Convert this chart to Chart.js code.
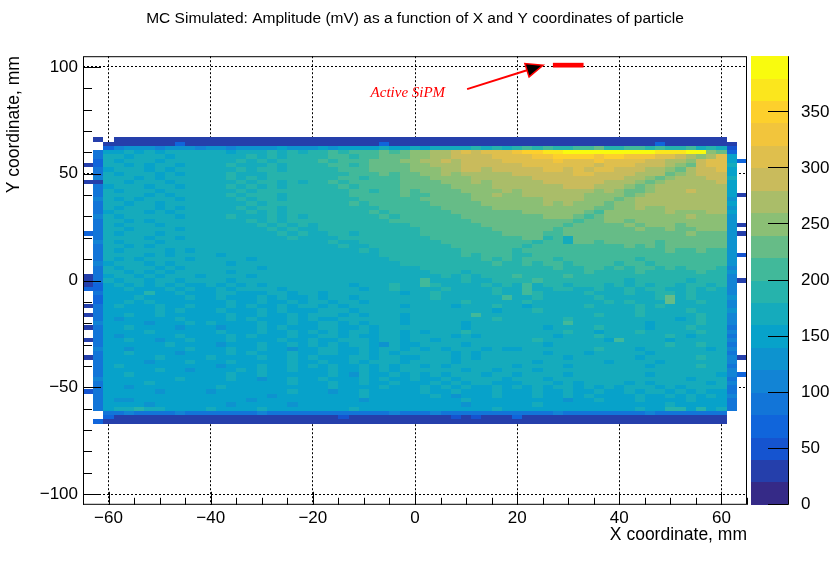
<!DOCTYPE html>
<html>
<head>
<meta charset="utf-8">
<title>MC Simulated amplitude map</title>
<script src="https://cdn.jsdelivr.net/npm/chart.js@4.4.1/dist/chart.umd.min.js"></script>
<style>
  html, body { margin: 0; padding: 0; background: #fff; }
  canvas { display: block; }
</style>
</head>
<body>
<canvas id="AmpMap" width="830" height="561"></canvas>
<script>
// bin centres of the 2D histogram (mm)
var xCenters = [-64, -62, -60, -58, -56, -54, -52, -50, -48, -46, -44, -42, -40, -38, -36, -34,
  -32, -30, -28, -26, -24, -22, -20, -18, -16, -14, -12, -10, -8, -6, -4, -2, 0, 2, 4, 6, 8, 10,
  12, 14, 16, 18, 20, 22, 24, 26, 28, 30, 32, 34, 36, 38, 40, 42, 44, 46, 48, 50, 52, 54, 56, 58,
  60, 62, 64];
var yCenters = [66, 64, 62, 60, 58, 56, 54, 52, 50, 48, 46, 44, 42, 40, 38, 36, 34, 32, 30, 28,
  26, 24, 22, 20, 18, 16, 14, 12, 10, 8, 6, 4, 2, 0, -2, -4, -6, -8, -10, -12, -14, -16, -18, -20,
  -22, -24, -26, -28, -30, -32, -34, -36, -38, -40, -42, -44, -46, -48, -50, -52, -54, -56, -58,
  -60, -62, -64, -66];

// amplitude per bin, one row per y centre (top to bottom), one char per x centre.
// char = amplitude class of 20 mV (base-20 digit 0..j), '.' = empty bin
var amplitudeRows = [
  ".1 .111111111 1111111111 1111111111 1111111111 1111111111 1111111111 1..",
  ".. 1111111311 1111111111 1111111311 1111111111 1111111111 1111311111 11.",
  ".. 3566656665 6656666766 6767777877 8788889898 9a9a99aab9 9aa9a99a89 82.",
  ".4 7787878888 8878889898 99a9aaabab ccddefefff ghhiijjjjj jjjjiiijjc b3.",
  ".4 8878887888 8888989899 99aa9aabbb ccddeeeeff ffgghhhhgh hgggffedcd f7.",
  ".3 8788878888 8889898999 9a9aaabbbc cddedeeeef ffffgfffgf fffeeddcef f73",
  "13 8878788788 8898889899 99aa9abbbb ccdddeeeee efffffffef ffeeedcbef f8.",
  ".4 7888787888 8889899899 999aaabbbb cccddeedee eeeffefeff eeeddcbdee f7.",
  ".4 8788878788 8898889999 9999aaabab bccdcddddd eeeeeeffee eedddbcdee e7.",
  ".5 8887878888 8898989999 999aa9aaab bbccccdddd ddeeeeeeee eddcbcddde e8.",
  "11 8878887888 8889899898 99a9aaaaab bbbcccdcdd dddeeeeeed ddcbcddddd e7.",
  ".4 7888788788 8898989899 999a9aaaab bbbbccccdd dddddeeedd dcbcdddddd d7.",
  ".4 8788878888 8889899999 9999aa9aab abbbbccccd cdddddddcd cbbcdddedd d7.",
  ".4 8888787888 8898999899 9999aaaaab aabbbbccdc cddddddccc cbcddddddd d71",
  ".5 8787888788 8889899899 99999aaaaa abbbbbcccc cccddddccc bcdddddddd d6.",
  ".4 8878878888 8888989999 9999a9aaaa aabbbbbccc cccdcdcccb ccdddddddd d7.",
  ".4 8788878788 8889899899 9999999aaa aaabbbbbcc ccccccccbb ccdccddddd d6.",
  ".4 7888787888 8888989899 999999a9aa aaaabbbbbb bccccccbac cccccdcccd d7.",
  ".5 8788888788 8898889898 9999999a9a aaaaabbbbb bbbcccbabc cccccccdcc c6.",
  ".4 8878788888 8888989899 99999999aa aaaaaabbbb bbbbbbabbc cbcccccccc c6.",
  ".4 8788878888 8888898989 8999999999 aaaaaaabbb bbbbbabbbb bcbcccbccc c61",
  ".4 8878888788 8888889898 8999999999 9aaaaaaabb bbbbabbbbb bbcbbcbbcc c6.",
  "34 8788878888 8888888989 8899899999 9aaaaaaaab bbbaabbbbb bbbbbbbcbb b61",
  ".4 8888788788 8888888898 8889999999 99aaaaaaaa abb9a8bbbb bbbbbbbbbb b6.",
  ".5 8788878888 8888888888 8898899999 999aaaaaaa aa9aa8bbab bbbbabbbbb b6.",
  ".4 8878788888 8888888888 8889889999 9999aaaaaa a9aaaaaaaa abababbbbb b6.",
  ".4 8788887878 8888888888 8888898999 99999aaaaa 9aaaaaaaaa aaaaabaaba a6.",
  ".4 8888787888 8788888888 8888888999 99999a9aaa 99aaaaaaaa aaaaaaaaaa a62",
  ".4 8787888878 8888788888 8888888899 9999999a9a 9aaa9aaaaa aa9aaaaaaa a6.",
  ".5 7888787888 8878888888 8888888889 99999999a9 9a9aa9aaaa 9aa9aaaaaa a6.",
  ".4 8788878788 8888878888 8888888888 8999999999 9999a99aa9 a9aa9a9aaa 95.",
  ".4 8878787888 8878888888 8888888888 8899989999 9999999a99 99a99999a9 96.",
  "14 7887878887 8888788888 8888888888 8889898999 a9999a9999 9999999999 95.",
  "14 8788788788 8878888888 8888888888 8a88898899 99a9999999 9899999899 951",
  "13 7878787877 8787878888 8888788898 8a98888989 8a89989998 9898998998 95.",
  "33 7787778787 7878888788 8888878898 8889888898 8a88998898 8989988989 85.",
  ".4 7777977877 7887778878 8788888887 8898888898 8a98888988 8988998988 85.",
  ".3 7778777787 7877787877 8788788888 889888888a 8898888898 88889b8988 86.",
  ".3 7787877777 7787787787 8878878888 8888898888 8988888889 89888b8898 85.",
  "14 7877787787 7787877878 8787888887 8888788898 8788888988 8898988888 85.",
  ".4 7777787877 7877787877 7888788888 8888888878 8898888888 8898888988 86.",
  "14 7787787777 7787787787 8887878887 888888a888 8888888898 8898888898 85.",
  ".4 7677777877 7787877787 8778888887 8888888898 8888898888 8888887898 85.",
  ".5 7777677787 8777787787 7887878887 8888878888 88888a8888 8887888898 85.",
  "14 7787777677 7677787877 7887787888 8888878888 8887888898 8887888988 84.",
  ".4 7777877777 7877787787 8787887887 8788898888 8888898878 8898888898 85.",
  ".4 7677777877 7787877787 7887877887 8888787888 8888788898 8888898788 84.",
  "14 7787767787 7787777877 8778887887 8878888888 8898888887 a888878888 85.",
  ".4 7777778777 7677787787 8787887687 7888878888 8887888888 8888898898 84.",
  ".5 7767777787 7787787767 7887787887 8787888787 7888888898 8878888887 85.",
  ".4 7787777677 7787877787 7887787878 8888787888 8887888788 8887888888 84.",
  "14 7777787777 8777787787 8777887887 7888787888 8888878888 8878888898 851",
  ".4 7777677787 7787777787 7877878887 8888788888 8878888887 8888788888 85.",
  ".4 7877777777 7677787787 8787787878 8787888888 7888878888 8887888898 84.",
  ".4 7777787767 7778787787 7787787878 8888878878 8878888888 8888888888 85.",
  ".4 7787777777 7787787777 7787687787 8787888788 7888878888 8887888888 753",
  ".5 7777777877 7787767787 7877787877 8778788887 8887888888 8888888788 84.",
  ".4 7777877777 7777777787 7787787787 7787878877 7888787888 8787888887 85.",
  ".4 7767777777 7877777777 7787777877 7878787787 8787887878 7888787888 84.",
  "24 7777767777 6777777787 7767787777 7877877787 7787787787 7878878787 74.",
  ".4 7777777777 7777776777 7777787777 7787677787 7787787877 7787787878 75.",
  ".4 7667777777 7777677777 7777767777 7777787777 7777767787 7787777877 74.",
  ".4 7777677777 7767777767 7777777777 7777767777 7787777777 7777787777 74.",
  ".4 7889887777 8777787777 7777877777 7777777787 7777777777 7787799797 84.",
  ".. 4454444544 4444454444 4444444454 4454444444 4444544444 4445444444 4..",
  ".. 3111111111 1111111111 1112111111 1111212111 3111111111 1111111111 1..",
  ".3 1111111111 1111111111 1111111111 1111111111 1111111111 1111111111 1.."
];

var xTicks = [-60, -40, -20, 0, 20, 40, 60];
var yTicks = [-100, -50, 0, 50, 100];
var zTicks = [0, 50, 100, 150, 200, 250, 300, 350];

// "Active SiPM" marker (mm)
var sipmX = [27, 33];
var sipmY = [99.7, 101.9];
var arrowFrom = [10.2, 89.6];
var arrowTo = [25.1, 100.8];
var labelAt = [-8.7, 85.8];

var BIN = 2;        // mm
var STEP = 20;      // mV per colour class
var ZMAX = 400;
var NCOL = 20;

// ROOT kBird palette
var birdStops = [0, 0.125, 0.25, 0.375, 0.5, 0.625, 0.75, 0.875, 1];
var birdR = [0.2082, 0.0592, 0.0780, 0.0232, 0.1802, 0.5301, 0.8186, 0.9956, 0.9764];
var birdG = [0.1664, 0.3599, 0.5041, 0.6419, 0.7178, 0.7492, 0.7328, 0.7862, 0.9832];
var birdB = [0.5293, 0.8684, 0.8385, 0.7914, 0.6425, 0.4662, 0.3499, 0.1968, 0.0539];

function bird(t) {
  var i = 0;
  while (i < birdStops.length - 2 && t > birdStops[i + 1]) i++;
  var f = (t - birdStops[i]) / (birdStops[i + 1] - birdStops[i]);
  var ch = function (a) { return Math.round(255 * (a[i] + (a[i + 1] - a[i]) * f)); };
  return 'rgb(' + ch(birdR) + ',' + ch(birdG) + ',' + ch(birdB) + ')';
}
var levelColors = [];
for (var k = 0; k < NCOL; k++) levelColors.push(bird(k / (NCOL - 1)));

function colorFor(v) {
  var lvl = Math.max(0, Math.min(NCOL - 1, Math.floor(v / ZMAX * NCOL)));
  return levelColors[lvl];
}

var cells = [];
yCenters.forEach(function (y, r) {
  var row = amplitudeRows[r].replace(/ /g, '');
  xCenters.forEach(function (x, c) {
    var ch = row.charAt(c);
    if (ch === '.' || ch === '') return;
    cells.push({ x: x, y: y, v: (parseInt(ch, 20) + 0.5) * STEP });
  });
});

function minus(v) { return String(v).replace('-', '\u2212'); }

var th2Plugin = {
  id: 'th2',
  beforeDatasetsDraw: function (chart) {
    var c = chart.ctx, a = chart.chartArea, xs = chart.scales.x, ys = chart.scales.y;
    c.save();
    c.beginPath();
    c.rect(a.left, a.top, a.right - a.left, a.bottom - a.top);
    c.clip();
    cells.forEach(function (d) {
      var x0 = Math.round(xs.getPixelForValue(d.x - BIN / 2));
      var x1 = Math.round(xs.getPixelForValue(d.x + BIN / 2));
      var y0 = Math.round(ys.getPixelForValue(d.y + BIN / 2));
      var y1 = Math.round(ys.getPixelForValue(d.y - BIN / 2));
      c.fillStyle = colorFor(d.v);
      c.fillRect(x0, y0, x1 - x0, y1 - y0);
    });
    c.restore();
  },
  afterDraw: function (chart) {
    var c = chart.ctx, a = chart.chartArea;
    var xs = chart.scales.x, ys = chart.scales.y, zs = chart.scales.zAxis;
    c.save();
    c.strokeStyle = '#000';
    c.lineWidth = 1;
    c.strokeRect(a.left + 0.5, a.top + 0.5, a.right - a.left - 1, a.bottom - a.top - 1);

    // inward ticks, ROOT style
    c.beginPath();
    var v, p, len;
    for (v = -65; v <= 65; v += 5) {
      p = Math.round(xs.getPixelForValue(v)) + 0.5;
      len = xTicks.indexOf(v) >= 0 ? 13 : 7;
      c.moveTo(p, a.bottom);
      c.lineTo(p, a.bottom - len);
    }
    for (v = -100; v <= 100; v += 10) {
      p = Math.round(ys.getPixelForValue(v)) + 0.5;
      len = yTicks.indexOf(v) >= 0 ? 18 : 9;
      c.moveTo(a.left, p);
      c.lineTo(a.left + len, p);
    }
    c.stroke();

    // colour palette
    var pl = a.right + 4, pr = a.right + 41;
    for (var i = 0; i < NCOL; i++) {
      var t0 = Math.round(zs.getPixelForValue((i + 1) * ZMAX / NCOL));
      var t1 = Math.round(zs.getPixelForValue(i * ZMAX / NCOL));
      c.fillStyle = levelColors[i];
      c.fillRect(pl, t0, pr - pl, t1 - t0);
    }
    c.beginPath();
    c.moveTo(pr + 0.5, a.top);
    c.lineTo(pr + 0.5, a.bottom);
    zTicks.forEach(function (z) {
      var q = Math.round(zs.getPixelForValue(z)) - 0.5;
      c.moveTo(pr, q);
      c.lineTo(pr - 20, q);
    });
    c.stroke();

    // Active SiPM marker + arrow + label
    c.fillStyle = '#ff0000';
    var sx0 = xs.getPixelForValue(sipmX[0]), sx1 = xs.getPixelForValue(sipmX[1]);
    var sy0 = ys.getPixelForValue(sipmY[1]), sy1 = ys.getPixelForValue(sipmY[0]);
    c.fillRect(sx0, sy0, sx1 - sx0, sy1 - sy0);

    var ax = xs.getPixelForValue(arrowFrom[0]), ay = ys.getPixelForValue(arrowFrom[1]);
    var bx = xs.getPixelForValue(arrowTo[0]), by = ys.getPixelForValue(arrowTo[1]);
    var ang = Math.atan2(by - ay, bx - ax);
    var hl = 17, hw = 7;
    var hx = bx - hl * Math.cos(ang), hy = by - hl * Math.sin(ang);
    c.strokeStyle = '#ff0000';
    c.lineWidth = 2;
    c.beginPath();
    c.moveTo(ax, ay);
    c.lineTo(hx, hy);
    c.stroke();
    c.beginPath();
    c.moveTo(bx, by);
    c.lineTo(hx + hw * Math.sin(ang), hy - hw * Math.cos(ang));
    c.lineTo(hx - hw * Math.sin(ang), hy + hw * Math.cos(ang));
    c.closePath();
    c.fillStyle = '#000';
    c.fill();
    c.lineWidth = 1.5;
    c.stroke();

    c.fillStyle = '#ff0000';
    c.font = 'italic 15px "Liberation Serif", "DejaVu Serif", serif';
    c.textAlign = 'left';
    c.textBaseline = 'alphabetic';
    c.fillText('Active SiPM', xs.getPixelForValue(labelAt[0]), ys.getPixelForValue(labelAt[1]));
    c.restore();
  }
};

Chart.defaults.font.family = "'Liberation Sans', Arial, sans-serif";
Chart.defaults.color = '#000';

var ctx = document.getElementById('AmpMap').getContext('2d');
var ampChart = new Chart(ctx, {
  type: 'scatter',
  data: {
    datasets: [{
      label: 'Amplitude (mV)',
      data: cells,
      pointRadius: 0,
      pointHoverRadius: 0
    }]
  },
  options: {
    responsive: false,
    animation: false,
    devicePixelRatio: 1,
    events: [],
    layout: { padding: 0 },
    plugins: {
      legend: { display: false },
      tooltip: { enabled: false },
      title: {
        display: true,
        text: 'MC Simulated: Amplitude (mV) as a function of X and Y coordinates of particle',
        font: { size: 15.5, weight: 'normal' },
        color: '#000',
        padding: { top: 9.5, bottom: 27.9 }
      }
    },
    scales: {
      x: {
        type: 'linear', min: -65, max: 65, z: 1,
        afterBuildTicks: function (s) { s.ticks = xTicks.map(function (v) { return { value: v }; }); },
        afterFit: function (s) { s.height = 56; },
        grid: { color: '#000', lineWidth: 1, drawTicks: false },
        border: { display: false, dash: [2, 2] },
        ticks: { padding: 3, font: { size: 17 }, color: '#000', maxRotation: 0, autoSkip: false, callback: minus },
        title: { display: true, text: 'X coordinate, mm', align: 'end', font: { size: 17.5 }, color: '#000', padding: { top: 0, bottom: 15 } }
      },
      y: {
        type: 'linear', min: -105, max: 105, z: 1,
        afterBuildTicks: function (s) { s.ticks = yTicks.map(function (v) { return { value: v }; }); },
        afterFit: function (s) { s.width = 83; },
        grid: { color: '#000', lineWidth: 1, drawTicks: false },
        border: { display: false, dash: [2, 2] },
        ticks: { padding: 5, font: { size: 17 }, color: '#000', autoSkip: false, callback: minus },
        title: { display: true, text: 'Y coordinate, mm', align: 'end', font: { size: 17.5 }, color: '#000', padding: { top: 4, bottom: 0 } }
      },
      zAxis: {
        type: 'linear', axis: 'y', position: 'right', min: 0, max: ZMAX,
        afterBuildTicks: function (s) { s.ticks = zTicks.map(function (v) { return { value: v }; }); },
        afterFit: function (s) { s.width = 83; },
        grid: { display: false },
        border: { display: false },
        ticks: { padding: 46, font: { size: 17 }, color: '#000', autoSkip: false }
      }
    }
  },
  plugins: [th2Plugin]
});
</script>
</body>
</html>
